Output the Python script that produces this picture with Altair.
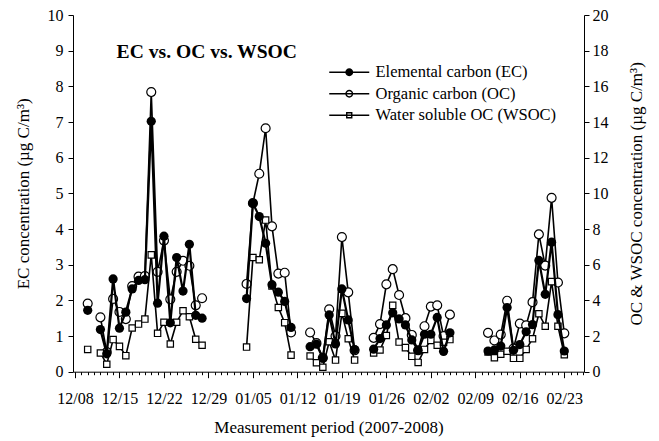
import altair as alt
import pandas as pd

START = "2007-12-08"
# sampling days, as day offsets from 12/08/2007
days = [2,
        4, 5, 6, 7, 8, 9, 10, 11, 12, 13, 14, 15, 16, 17, 18, 19, 20,
        27, 28, 29, 30, 31, 32, 33, 34,
        37, 38, 39, 40, 41, 42, 43, 44,
        47, 48, 49, 50, 51, 52, 53, 54, 55, 56, 57, 58, 59,
        65, 66, 67, 68, 69, 70, 71, 72, 73, 74, 75, 76, 77]

ec = [1.72,
      1.18, 0.50, 2.60, 1.22, 1.67, 2.32, 2.56, 2.58, 7.02, 1.92, 3.80, 1.37, 3.20, 2.26, 3.57, 1.58, 1.50,
      2.05, 4.72, 4.35, 3.60, 2.44, 2.23, 1.97, 1.24,
      0.70, 0.77, 0.38, 1.59, 0.78, 2.32, 1.45, 0.62,
      0.63, 0.93, 1.31, 1.65, 1.48, 1.31, 0.89, 0.60, 1.05, 1.05, 1.52, 0.57, 1.09,
      0.58, 0.61, 0.72, 1.80, 0.60, 0.76, 1.12, 1.32, 3.12, 2.17, 3.63, 1.60, 0.58]

oc = [3.82,
      3.05, 1.10, 4.08, 3.35, 2.95, 4.80, 5.33, 5.36, 15.68, 5.60, 7.35, 4.06, 5.60, 6.22, 5.94, 3.72, 4.12,
      4.92, 9.45, 11.10, 13.65, 8.15, 5.50, 5.55, 2.20,
      2.20, 1.60, 0.78, 3.50, 2.00, 7.55, 4.45, 1.20,
      1.90, 2.67, 4.90, 5.75, 4.30, 3.00, 2.06, 1.20, 2.55, 3.65, 3.72, 2.00, 3.20,
      2.18, 1.75, 2.08, 3.98, 1.30, 2.70, 2.60, 3.90, 7.70, 5.95, 9.75, 5.00, 2.15]

wsoc = [1.25,
        1.05, 0.42, 1.80, 1.42, 0.90, 2.45, 2.67, 2.95, 6.55, 2.15, 2.77, 1.55, 2.77, 3.42, 3.08, 1.82, 1.48,
        1.38, 6.40, 6.28, 8.50, 4.80, 3.60, 2.75, 0.93,
        0.88, 0.50, 0.25, 1.68, 0.65, 3.27, 1.85, 0.65,
        1.05, 1.22, 2.03, 3.72, 1.66, 1.35, 0.86, 0.52, 1.25, 1.75, 1.48, 1.65, 1.80,
        1.10, 0.78, 0.98, 1.15, 0.75, 0.75, 1.25, 1.85, 3.25, 2.55, 5.05, 2.55, 0.95]

series_names = ["Elemental carbon (EC)", "Organic carbon (OC)", "Water soluble OC (WSOC)"]
week_ticks = ["12/08", "12/15", "12/22", "12/29", "01/05", "01/12", "01/19",
              "01/26", "02/02", "02/09", "02/16", "02/23"]

FONT = "Liberation Serif"

start = pd.Timestamp(START)
dates = [(start + pd.Timedelta(days=d)).strftime("%Y-%m-%d") for d in days]
seg = []
s = 0
for i, d in enumerate(days):
    if i > 0 and d - days[i - 1] > 1:
        s += 1
    seg.append(s)

def frame(vals, name):
    return pd.DataFrame({"date": dates, "value": vals, "seg": seg, "series": name})

df_ec = frame(ec, series_names[0])
df_oc = frame(oc, series_names[1])
df_ws = frame(wsoc, series_names[2])

def ms(ts):
    return int(pd.Timestamp(ts).value // 10**6)

day_ms = [ms(start + pd.Timedelta(days=k)) for k in range(0, 81)]
x_domain = [ms(start - pd.Timedelta(hours=7.5)), ms(start + pd.Timedelta(days=80.1))]

x_enc = alt.X(
    "date:T",
    scale=alt.Scale(type="utc", domain=x_domain),
    axis=alt.Axis(
        values=day_ms,
        labelExpr="utcday(datum.value) == 6 ? utcFormat(datum.value, '%m/%d') : ''",
        tickSize={"condition": {"test": "utcday(datum.value) == 6", "value": 6}, "value": 3},
        labelOverlap=False,
        labelFlush=False,
        labelPadding=13,
        labelFontSize=16,
        title="Measurement period (2007-2008)",
        titleFontSize=17,
        titlePadding=13,
        grid=False,
    ),
)

y_left = alt.Y(
    "value:Q",
    scale=alt.Scale(domain=[0, 10], nice=False),
    axis=alt.Axis(orient="left", values=list(range(0, 11)), tickSize=5, labelPadding=5,
                  labelFontSize=16, title="EC concentration (µg C/m³)", titleFontSize=17,
                  titlePadding=15, grid=False),
)
y_right = alt.Y(
    "value:Q",
    scale=alt.Scale(domain=[0, 20], nice=False),
    axis=alt.Axis(orient="right", values=list(range(0, 21, 2)), tickSize=5, labelPadding=3,
                  labelFontSize=16, title="OC & WSOC concentration (µg C/m³)", titleFontSize=17,
                  titleAngle=270, titleBaseline="top", titlePadding=20, grid=False),
)

def line(df, y, width):
    return alt.Chart(df).mark_line(color="black", strokeWidth=width).encode(
        x=x_enc, y=y, detail="seg:N")

oc_line = line(df_oc, y_right, 1.6)
oc_pts = alt.Chart(df_oc).mark_point(shape="circle", filled=True, fill="white", stroke="black",
                                     strokeWidth=1.2, size=80, opacity=1).encode(x=x_enc, y=y_right)
ws_line = line(df_ws, y_right, 1.6)
ws_pts = alt.Chart(df_ws).mark_point(shape="square", filled=True, fill="white", stroke="black",
                                     strokeWidth=1.2, size=40, opacity=1).encode(x=x_enc, y=y_right)
right = alt.layer(oc_line, oc_pts, ws_line, ws_pts)

ec_line = line(df_ec, y_left, 2.2)
ec_pts = alt.Chart(df_ec).mark_point(shape="circle", filled=True, color="black",
                                     size=85, opacity=1).encode(x=x_enc, y=y_left)
left = alt.layer(ec_line, ec_pts)

paths = [
    "M-4,0H4M0.65,0A0.65,0.65,0,1,1,-0.65,0A0.65,0.65,0,1,1,0.65,0Z",
    "M-4,0H-0.65M0.65,0H4M0.65,0A0.65,0.65,0,1,1,-0.65,0A0.65,0.65,0,1,1,0.65,0ZM-0.65,0H0.65",
    "M-4,0H-0.5M0.5,0H4M-0.5,-0.5H0.5V0.5H-0.5ZM-0.5,0H0.5",
]
leg = alt.Legend(orient="none", legendX=268, legendY=49, title=None, labelFont=FONT,
                 labelFontSize=16.5, labelOffset=18, rowPadding=4.5, padding=0,
                 symbolStrokeColor="black", symbolStrokeWidth=1.4, symbolSize=100,
                 labelLimit=400, labelColor="black")
df_leg = pd.concat([df_ec, df_oc, df_ws])
legend_layer = alt.Chart(df_leg).transform_filter("datum.value < -1").mark_point(
    filled=False, strokeWidth=1.4, size=100, opacity=1).encode(
    shape=alt.Shape("series:N", scale=alt.Scale(domain=series_names, range=paths), legend=leg),
    fill=alt.Fill("series:N", scale=alt.Scale(domain=series_names, range=["black", "white", "white"]),
                  legend=leg),
    stroke=alt.Stroke("series:N", scale=alt.Scale(domain=series_names, range=["black", "black", "black"]),
                      legend=leg),
)

chart = alt.layer(right, left, legend_layer).resolve_scale(y="independent").properties(
    width=511,
    height=356.7,
    autosize=alt.AutoSizeParams(type="none"),
    padding={"left": 73, "top": 15, "right": 75, "bottom": 69.3},
    title=alt.TitleParams("EC vs. OC vs. WSOC", anchor="start", frame="group", font=FONT,
                          fontSize=19.6, fontWeight="bold", dx=43.6, dy=70.5, offset=0,
                          baseline="alphabetic", color="black"),
    background="white",
).configure_view(stroke=None).configure_axis(
    labelFont=FONT, titleFont=FONT, labelColor="black", titleColor="black",
    domainColor="black", tickColor="black", titleFontWeight="normal", domainWidth=1, tickWidth=1,
)

chart.save("out.html", embed_options={"renderer": "svg", "actions": False})
